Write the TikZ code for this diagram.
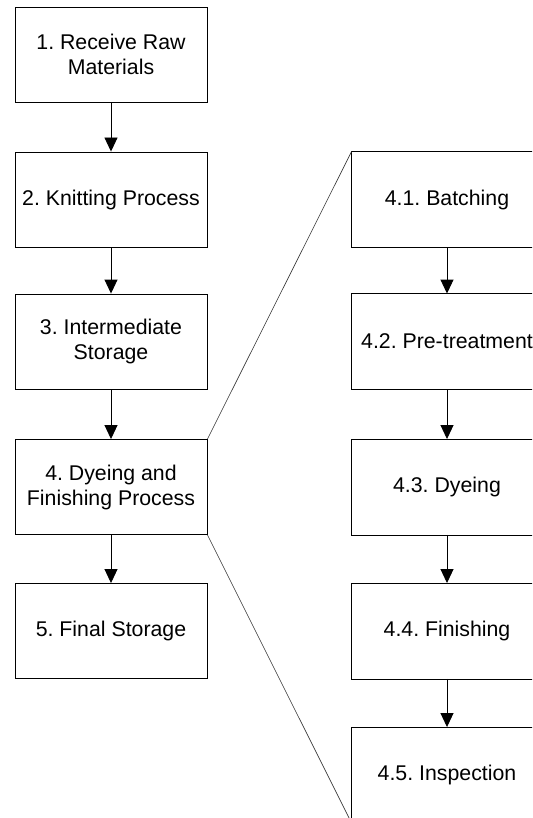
\documentclass[tikz,border=0pt]{standalone}
\usepackage{fontspec}
\setmainfont{Liberation Sans}
\usetikzlibrary{arrows.meta}
\frenchspacing
\begin{document}
\begin{tikzpicture}[x=1pt,y=-1pt,
  stepbox/.style={draw=black,line width=0.9pt,minimum width=192pt,minimum height=95pt,
    inner sep=0pt,align=center,font=\fontsize{21.3}{25}\selectfont},
  substep/.style={stepbox,draw=none,minimum width=190pt},
  opencut/.style={draw=black,line width=0.9pt},
  flow/.style={draw=black,line width=0.9pt,-{Triangle[width=13pt,length=14pt]}},
  zoomline/.style={draw=black!80,line width=0.6pt}]
\useasboundingbox (0,0) rectangle (532,818);
\clip (0,0) rectangle (532,818);
% main process column
\node[stepbox] (b1) at (111,54.5) {1. Receive Raw\\Materials};
\node[stepbox] (b2) at (111,199.5) {2. Knitting Process};
\node[stepbox] (b3) at (111,341.5) {3. Intermediate\\Storage};
\node[stepbox] (b4) at (111,487) {4. Dyeing and\\Finishing Process};
\node[stepbox] (b5) at (111,631) {5. Final Storage};
% detail of step 4 (boxes run on past the right margin)
\node[substep] (r1) at (447,199.5) {4.1. Batching};
\node[substep] (r2) at (447,341.5) {4.2. Pre-treatment};
\node[substep] (r3) at (447,487) {4.3. Dyeing};
\node[substep] (r4) at (447,631) {4.4. Finishing};
\node[substep] (r5) at (447,775) {4.5. Inspection};
\foreach \r in {r1,r2,r3,r4,r5}
  \draw[opencut] ([xshift=40pt]\r.north east) -- (\r.north west)
    -- (\r.south west) -- ([xshift=40pt]\r.south east);
% arrows
\draw[flow] (b1) -- (b2);
\draw[flow] (b2) -- (b3);
\draw[flow] (b3) -- (b4);
\draw[flow] (b4) -- (b5);
\draw[flow] (r1) -- (r2);
\draw[flow] (r2) -- (r3);
\draw[flow] (r3) -- (r4);
\draw[flow] (r4) -- (r5);
% expansion lines
\draw[zoomline] (b4.north east) -- (r1.north west);
\draw[zoomline] (b4.south east) -- (r5.south west);
\end{tikzpicture}
\end{document}
